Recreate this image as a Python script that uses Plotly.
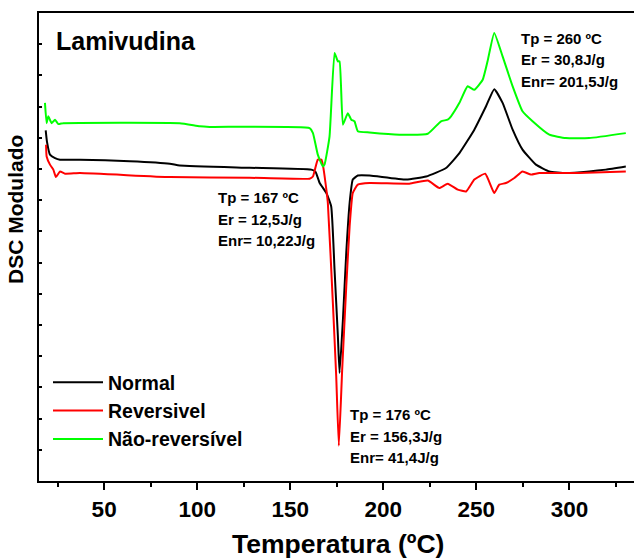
import plotly.graph_objects as go

# ---------------- data (temperature in ºC, DSC signal in arbitrary units) ----------------
normal_T = [18.6, 19.3, 20.9, 23.6, 26.3, 37.0, 63.8, 85.3, 90.6, 128.2, 161.3, 163.6, 165.8,
            169.4, 172.0, 173.8, 175.6, 176.5, 178.3, 180.1, 181.9, 183.6, 186.3, 192.6, 212.3,
            223.0, 233.7, 240.9, 248.9, 255.2, 259.6, 264.1, 269.5, 274.8, 282.0, 289.2, 298.1,
            310.6, 319.6, 330.3]
normal_Y = [11.24, 10.87, 10.46, 10.35, 10.30, 10.30, 10.25, 10.17, 10.11, 10.04, 9.98, 9.91, 9.55,
            9.23, 8.80, 6.77, 4.63, 3.46, 5.17, 7.32, 8.91, 9.66, 9.79, 9.79, 9.66,
            9.76, 10.03, 10.51, 11.26, 12.01, 12.56, 12.12, 11.26, 10.62, 10.14, 9.92, 9.87,
            9.92, 9.98, 10.08]

rev_T = [18.8, 19.1, 20.9, 22.7, 24.1, 26.3, 29.0, 37.0, 85.3, 128.2, 160.4, 162.2, 164.8, 166.7,
         167.5, 169.4, 170.2, 172.9, 174.7, 176.1, 177.9, 180.1, 181.9, 183.6, 186.3, 192.6,
         214.0, 223.9, 230.1, 234.6, 240.0, 244.5, 248.9, 254.8, 259.6, 262.3, 265.9, 270.4,
         274.8, 279.3, 283.8, 305.2, 330.3]
rev_Y = [10.78, 10.40, 10.14, 9.98, 9.74, 9.92, 9.85, 9.87, 9.74, 9.72, 9.69, 9.76, 10.30, 10.30,
         10.14, 9.34, 8.91, 5.71, 3.35, 1.13, 3.57, 6.24, 8.16, 9.23, 9.50, 9.55,
         9.53, 9.63, 9.39, 9.53, 9.34, 9.28, 9.66, 9.85, 9.23, 9.50, 9.55, 9.71,
         9.92, 9.82, 9.87, 9.87, 9.92]

nrev_T = [18.2, 19.1, 20.0, 21.8, 23.6, 25.4, 28.0, 90.6, 101.4, 106.7, 160.4, 162.2, 164.8,
          167.5, 168.4, 171.1, 173.8, 175.6, 176.5, 178.3, 180.9, 182.8, 184.5, 186.3, 192.6,
          208.7, 223.9, 231.0, 234.6, 236.4, 240.9, 245.3, 248.9, 253.4, 256.0, 259.6, 264.1,
          269.5, 274.8, 280.2, 289.2, 298.1, 310.6, 330.3]
nrev_Y = [12.12, 11.47, 11.69, 11.47, 11.58, 11.44, 11.47, 11.47, 11.37, 11.35, 11.31, 11.15, 10.46,
          10.08, 10.14, 11.04, 13.72, 13.45, 13.45, 11.42, 11.79, 11.58, 11.53, 11.21, 11.17,
          11.10, 11.13, 11.53, 11.58, 11.69, 12.12, 12.65, 12.54, 12.86, 13.45, 14.36, 13.61,
          12.65, 11.85, 11.53, 11.10, 10.99, 10.99, 11.15]

series_names = ["Normal", "Reversivel", "Não-reversível"]
series_colors = ["#000000", "#FF0000", "#00FF00"]

x_ticks = [50, 100, 150, 200, 250, 300]

notes_167 = ["Tp = 167 ºC", "Er = 12,5J/g", "Enr= 10,22J/g"]
notes_260 = ["Tp = 260 ºC", "Er = 30,8J/g", "Enr= 201,5J/g"]
notes_176 = ["Tp = 176 ºC", "Er = 156,3J/g", "Enr= 41,4J/g"]

# ---------------- layout helpers ----------------
W, H = 634, 560
ML, MR, MT, MB = 39, 0, 13, 79
PW, PH = W - ML - MR, H - MT - MB
FONT = "Liberation Sans, Arial, sans-serif"


def px(x):
    return (x - ML) / PW


def py(y):
    return (H - MB - y) / PH


fig = go.Figure()
for T, Y, name, col in zip([normal_T, rev_T, nrev_T], [normal_Y, rev_Y, nrev_Y],
                           series_names, series_colors):
    fig.add_trace(go.Scatter(x=T, y=Y, mode="lines", name=name,
                             line=dict(color=col, width=2, shape="spline", smoothing=0.4)))

annotations = []
annotations.append(dict(text="Lamivudina", x=px(54), y=py(41), xref="paper", yref="paper",
                        xanchor="left", yanchor="middle", showarrow=False,
                        font=dict(family=FONT, size=25, color="black", weight="bold")))
for lines, x0, ys in [(notes_167, 216, [197.5, 219, 240]),
                      (notes_260, 519, [38.5, 60, 81]),
                      (notes_176, 348, [414, 436, 457])]:
    for t, yy in zip(lines, ys):
        annotations.append(dict(text=t, x=px(x0), y=py(yy), xref="paper", yref="paper",
                                xanchor="left", yanchor="middle", showarrow=False,
                                font=dict(family=FONT, size=15, color="black", weight="bold")))
annotations.append(dict(text="Temperatura (ºC)", x=px(337.5), y=py(544), xref="paper", yref="paper",
                        xanchor="center", yanchor="middle", showarrow=False,
                        font=dict(family=FONT, size=26.5, color="black", weight="bold")))
annotations.append(dict(text="DSC Modulado", x=px(16), y=py(210), xref="paper", yref="paper",
                        xanchor="center", yanchor="middle", showarrow=False, textangle=-90,
                        font=dict(family=FONT, size=21, color="black", weight="bold")))

fig.update_layout(
    width=W, height=H,
    margin=dict(l=ML, r=MR, t=MT, b=MB, autoexpand=False),
    paper_bgcolor="white", plot_bgcolor="white",
    showlegend=True,
    legend=dict(x=px(48), y=py(363), xanchor="left", yanchor="top",
                bgcolor="rgba(0,0,0,0)", itemwidth=50,
                font=dict(family=FONT, size=19.5, color="black", weight="bold"),
                tracegroupgap=0),
    annotations=annotations,
    xaxis=dict(range=[15, 334.7], tickvals=x_ticks, ticktext=[str(v) for v in x_ticks],
               ticks="outside", ticklen=7, tickwidth=1.5, tickcolor="black",
               minor=dict(dtick=25, tick0=0, ticks="outside", ticklen=4, tickwidth=1.5,
                          tickcolor="black", showgrid=False),
               showline=True, linecolor="black", linewidth=2, mirror=True,
               showgrid=False, zeroline=False,
               tickfont=dict(family=FONT, size=22.5, color="black", weight="bold")),
    yaxis=dict(range=[0, 15], dtick=1, tick0=0, ticks="inside", ticklen=3, tickwidth=1.5,
               tickcolor="black", showticklabels=False,
               showline=True, linecolor="black", linewidth=2, mirror=False,
               showgrid=False, zeroline=False),
)

fig.write_html("out.html")
